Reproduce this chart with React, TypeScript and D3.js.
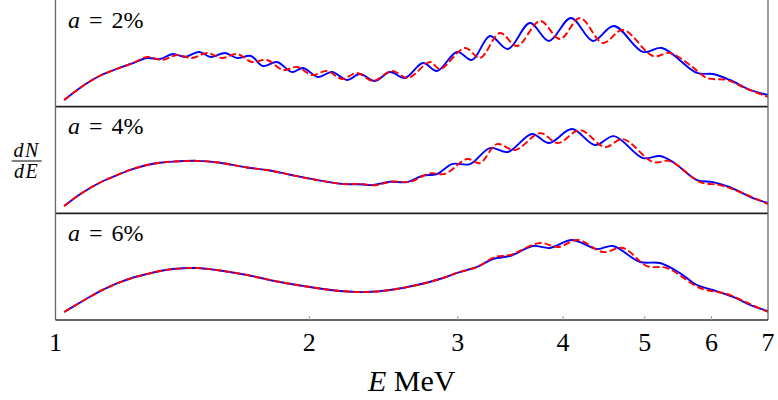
import React from 'react';
import * as d3 from 'd3';

// energies in MeV, dN/dE in arbitrary units (0-100 per panel)
const xTicks = [1, 2, 3, 4, 5, 6, 7];
const widths = ['2', '4', '6'];

const blue2 = [[1.024,6.3],[1.061,15.7],[1.099,23.8],[1.129,29.0],[1.161,33.0],[1.193,36.5],[1.236,40.9],[1.284,45.6],[1.330,44.7],[1.378,49.4],[1.424,46.6],[1.480,51.3],[1.529,46.6],[1.589,50.3],[1.642,45.6],[1.706,47.5],[1.762,38.1],[1.831,41.9],[1.908,32.5],[1.966,36.3],[2.048,27.8],[2.128,32.5],[2.217,25.0],[2.297,30.6],[2.393,24.1],[2.493,32.5],[2.597,26.9],[2.728,40.9],[2.835,33.5],[2.994,51.3],[3.119,43.8],[3.276,66.2],[3.441,54.1],[3.654,78.4],[3.849,61.6],[4.087,83.1],[4.340,61.6],[4.596,75.6],[4.975,51.3],[5.240,55.0],[5.766,31.6],[6.023,30.6],[6.309,25.0],[6.664,15.7],[7.0,11.0]];
const red2 = [[1.024,6.3],[1.061,15.7],[1.099,23.8],[1.129,29.0],[1.161,33.0],[1.193,36.5],[1.236,40.9],[1.284,46.6],[1.338,43.8],[1.394,48.5],[1.452,45.6],[1.513,50.3],[1.576,45.6],[1.642,49.4],[1.710,41.9],[1.782,43.8],[1.861,34.4],[1.934,37.2],[2.015,29.7],[2.099,33.5],[2.187,26.0],[2.278,31.6],[2.380,24.1],[2.507,33.5],[2.619,26.9],[2.781,41.9],[2.858,35.3],[3.060,55.0],[3.188,45.6],[3.367,69.1],[3.527,56.9],[3.756,80.3],[3.966,63.4],[4.189,83.1],[4.460,59.7],[4.711,71.9],[5.113,47.5],[5.356,50.3],[5.656,39.1],[5.925,26.9],[6.258,25.0],[6.573,17.5],[7.0,9.1]];

const blue4 = [[1.024,6.8],[1.061,16.0],[1.099,23.7],[1.139,30.3],[1.183,35.9],[1.232,41.3],[1.284,45.3],[1.330,47.4],[1.378,48.5],[1.472,49.2],[1.567,47.4],[1.687,43.0],[1.796,40.2],[1.897,36.2],[2.043,31.2],[2.193,27.5],[2.297,27.2],[2.380,26.5],[2.493,29.6],[2.612,29.3],[2.728,35.3],[2.835,36.8],[2.953,46.2],[3.102,46.2],[3.276,61.2],[3.441,57.5],[3.674,74.4],[3.849,65.9],[4.098,79.0],[4.364,64.0],[4.596,72.4],[4.975,51.8],[5.211,53.7],[5.400,48.1],[5.766,31.2],[6.023,29.3],[6.309,24.6],[6.718,14.3],[7.0,9.7]];
const red4 = [[1.024,6.8],[1.061,16.0],[1.099,23.7],[1.139,30.3],[1.183,35.9],[1.232,41.3],[1.284,45.3],[1.330,47.4],[1.378,48.5],[1.472,49.2],[1.567,47.4],[1.687,43.0],[1.796,40.2],[1.897,36.2],[2.043,31.2],[2.193,27.5],[2.297,27.6],[2.393,26.3],[2.507,29.8],[2.633,29.6],[2.781,37.5],[2.897,37.0],[3.077,50.9],[3.188,47.1],[3.339,64.9],[3.508,59.3],[3.756,75.2],[3.945,65.9],[4.189,78.1],[4.485,62.1],[4.711,69.6],[5.113,48.1],[5.356,49.0],[5.813,29.3],[6.139,26.5],[6.484,20.0],[7.0,8.7]];

const blue6 = [[1.024,7.5],[1.061,14.8],[1.099,21.8],[1.139,28.4],[1.183,34.3],[1.232,39.4],[1.284,43.1],[1.330,45.9],[1.378,47.8],[1.472,48.7],[1.567,46.4],[1.687,42.2],[1.846,35.6],[2.004,30.9],[2.175,27.2],[2.329,26.2],[2.493,28.1],[2.684,32.8],[2.882,39.4],[3.002,44.5],[3.162,49.7],[3.303,57.2],[3.460,60.0],[3.527,62.8],[3.684,69.4],[3.859,67.5],[4.098,75.0],[4.388,66.5],[4.584,69.4],[4.934,54.4],[5.211,53.4],[5.504,44.0],[5.766,32.8],[6.023,28.1],[6.361,21.6],[6.718,13.1],[7.0,8.4]];
const red6 = [[1.024,7.5],[1.061,14.8],[1.099,21.8],[1.139,28.4],[1.183,34.3],[1.232,39.4],[1.284,43.1],[1.330,45.9],[1.378,47.8],[1.472,48.7],[1.567,46.4],[1.687,42.2],[1.846,35.6],[2.004,30.9],[2.175,27.2],[2.329,26.2],[2.493,28.1],[2.684,32.8],[2.882,39.4],[3.002,44.5],[3.162,49.7],[3.321,59.0],[3.460,60.9],[3.756,72.2],[3.945,68.4],[4.166,75.0],[4.460,63.7],[4.711,67.5],[5.030,50.6],[5.312,48.7],[5.813,30.0],[6.258,24.4],[6.664,15.0],[7.0,7.5]];

const panels = [
  { label: widths[0], blue: blue2, red: red2 },
  { label: widths[1], blue: blue4, red: red4 },
  { label: widths[2], blue: blue6, red: red6 },
];

const font = 'Liberation Serif, DejaVu Serif, serif';

export default function App() {
  const x = d3.scaleLog().domain([1, 7]).range([55.5, 768]);
  const py = d3.scaleLinear().domain([0, 3]).range([0, 320]);
  const left = x(1), right = x(7), bottom = py(3);

  return (
    <svg width={778} height={400} style={{ position: 'absolute', left: 0, top: 0, background: '#fff' }} fontFamily={font}>
      {panels.map((p, i) => {
        const top = py(i), bot = py(i + 1);
        const y = d3.scaleLinear().domain([0, 100]).range([bot, top]);
        const line = d3.line<number[]>().x(d => x(d[0])).y(d => y(d[1])).curve(d3.curveCatmullRom.alpha(0.5));
        return (
          <g key={i}>
            <path d={line(p.blue) || ''} fill="none" stroke="#0000ff" strokeWidth={1.9} />
            <path d={line(p.red) || ''} fill="none" stroke="#ff0000" strokeWidth={1.9} strokeDasharray="7 3" />
            <text x={left + 12.5} y={top + 27.5} fontSize={24} fill="#000">
              <tspan fontStyle="italic">a</tspan>
              <tspan dx={9}>=</tspan>
              <tspan dx={9}>{p.label}%</tspan>
            </text>
            {i < 2 && <line x1={left} x2={right} y1={bot} y2={bot} stroke="#222" strokeWidth={1.6} />}
          </g>
        );
      })}
      {/* frame */}
      <line x1={left} x2={left} y1={0} y2={bottom} stroke="#666" strokeWidth={1.3} />
      <line x1={right} x2={right} y1={0} y2={bottom} stroke="#666" strokeWidth={1.3} />
      <line x1={left} x2={right} y1={bottom} y2={bottom} stroke="#333" strokeWidth={1.6} />
      {xTicks.map(t => (
        <g key={t}>
          {t > 1 && t < 7 && <line x1={x(t)} x2={x(t)} y1={bottom} y2={bottom - 4} stroke="#999" strokeWidth={1} />}
          <text x={x(t)} y={350.5} fontSize={26} textAnchor="middle" fill="#000">{t}</text>
        </g>
      ))}
      <text x={(left + right) / 2} y={391} fontSize={30} textAnchor="middle" fill="#000">
        <tspan fontStyle="italic">E</tspan> MeV
      </text>
      {/* dN/dE */}
      <text x={26.7} y={157} fontSize={20} fontStyle="italic" textAnchor="middle" letterSpacing={1.5}>dN</text>
      <line x1={11.7} x2={41.7} y1={161} y2={161} stroke="#000" strokeWidth={1} />
      <text x={26.7} y={178} fontSize={20} fontStyle="italic" textAnchor="middle" letterSpacing={1.5}>dE</text>
    </svg>
  );
}
